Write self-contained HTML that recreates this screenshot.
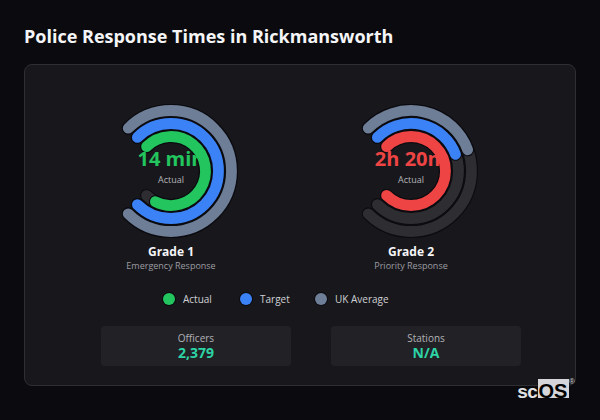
<!DOCTYPE html>
<html><head><meta charset="utf-8"><style>
*{margin:0;padding:0;box-sizing:border-box}
html,body{width:600px;height:420px;overflow:hidden;background:#0b0b0f;}
body{position:relative;-webkit-font-smoothing:antialiased;font-family:"Open Sans","Noto Sans","Liberation Sans",sans-serif;color:#fff;}
.abs{position:absolute;white-space:nowrap}
h1{position:absolute;left:24px;top:24px;font-size:18px;font-weight:700;line-height:24px;color:#f5f5f7;}
.card{position:absolute;left:24px;top:64px;width:552px;height:322px;background:#18181c;border:1px solid #2e2e33;border-radius:8px;}
svg.g{position:absolute;left:0;top:0;}
.ctr{position:absolute;text-align:center;transform:translateX(-50%);white-space:nowrap}
.val{font-size:20px;font-weight:700;line-height:27px}
.sub{font-size:9px;color:#b4b4b9;line-height:13px}
.gt{font-size:12px;font-weight:700;line-height:17px;color:#f5f5f7}
.gs{font-size:9px;color:#9c9ca2;line-height:13px}
.leg{position:absolute;top:293px;height:12px;display:flex;align-items:center;font-size:10px;color:#d0d0d4;}
.dot{width:12px;height:12px;border-radius:50%;margin-right:8px;flex:none;box-shadow:0 0 0 1px #0b0b10}
.box{position:absolute;top:326px;width:190px;height:40px;background:#222226;border-radius:4px;text-align:center;}
.bl{position:absolute;left:0;right:0;top:5px;font-size:10px;line-height:14px;color:#b1b1b7}
.bv{position:absolute;left:0;right:0;top:17px;font-size:14px;font-weight:700;line-height:19px;color:#2dd4a6}
.logo{position:absolute;left:0;top:0;font-family:"Liberation Sans",Arial,sans-serif;font-weight:700;}
.lsc{position:absolute;left:517.3px;top:380.5px;font-size:19px;line-height:22px;color:#e2e2e4;letter-spacing:-0.5px}
.lbox{position:absolute;left:537.5px;top:379px;width:31px;height:19px;background:#d6d6da}
.los{position:absolute;left:538.5px;top:379.5px;font-size:20px;line-height:22px;color:#000}
.lr{position:absolute;left:569px;top:376.5px;font-size:8px;line-height:10px;color:#cfcfd4;font-weight:400}
</style></head><body>
<h1>Police Response Times in Rickmansworth</h1>
<div class="card"></div>
<svg class="g" width="600" height="420" viewBox="0 0 600 420" fill="none" stroke-linecap="round">
<path d="M128.22 128.22A60.5 60.5 0 1 1 128.22 213.78" stroke="#0b0b10" stroke-width="13.0"/>
<path d="M128.22 128.22A60.5 60.5 0 1 1 128.22 213.78" stroke="#2d2d32" stroke-width="10.8"/>
<path d="M137.41 137.41A47.5 47.5 0 1 1 137.41 204.59" stroke="#0b0b10" stroke-width="13.0"/>
<path d="M137.41 137.41A47.5 47.5 0 1 1 137.41 204.59" stroke="#2d2d32" stroke-width="10.8"/>
<path d="M146.60 146.60A34.5 34.5 0 1 1 146.60 195.40" stroke="#0b0b10" stroke-width="13.0"/>
<path d="M146.60 146.60A34.5 34.5 0 1 1 146.60 195.40" stroke="#2d2d32" stroke-width="10.8"/>
<path d="M128.22 128.22A60.5 60.5 0 1 1 128.22 213.78" stroke="#0b0b10" stroke-width="13.0"/>
<path d="M128.22 128.22A60.5 60.5 0 1 1 128.22 213.78" stroke="#6e7e96" stroke-width="10.8"/>
<path d="M137.41 137.41A47.5 47.5 0 1 1 137.41 204.59" stroke="#0b0b10" stroke-width="13.0"/>
<path d="M137.41 137.41A47.5 47.5 0 1 1 137.41 204.59" stroke="#3b82f6" stroke-width="10.8"/>
<path d="M146.60 146.60A34.5 34.5 0 1 1 155.34 201.74" stroke="#0b0b10" stroke-width="13.0"/>
<path d="M146.60 146.60A34.5 34.5 0 1 1 155.34 201.74" stroke="#22c55e" stroke-width="10.8"/>
<path d="M368.22 128.22A60.5 60.5 0 1 1 368.22 213.78" stroke="#0b0b10" stroke-width="13.0"/>
<path d="M368.22 128.22A60.5 60.5 0 1 1 368.22 213.78" stroke="#2d2d32" stroke-width="10.8"/>
<path d="M377.41 137.41A47.5 47.5 0 1 1 377.41 204.59" stroke="#0b0b10" stroke-width="13.0"/>
<path d="M377.41 137.41A47.5 47.5 0 1 1 377.41 204.59" stroke="#2d2d32" stroke-width="10.8"/>
<path d="M386.60 146.60A34.5 34.5 0 1 1 386.60 195.40" stroke="#0b0b10" stroke-width="13.0"/>
<path d="M386.60 146.60A34.5 34.5 0 1 1 386.60 195.40" stroke="#2d2d32" stroke-width="10.8"/>
<path d="M368.22 128.22A60.5 60.5 0 0 1 467.66 149.79" stroke="#0b0b10" stroke-width="13.0"/>
<path d="M368.22 128.22A60.5 60.5 0 0 1 467.66 149.79" stroke="#6e7e96" stroke-width="10.8"/>
<path d="M377.41 137.41A47.5 47.5 0 0 1 455.49 154.35" stroke="#0b0b10" stroke-width="13.0"/>
<path d="M377.41 137.41A47.5 47.5 0 0 1 455.49 154.35" stroke="#3b82f6" stroke-width="10.8"/>
<path d="M386.60 146.60A34.5 34.5 0 1 1 386.60 195.40" stroke="#0b0b10" stroke-width="13.0"/>
<path d="M386.60 146.60A34.5 34.5 0 1 1 386.60 195.40" stroke="#ef4444" stroke-width="10.8"/>
</svg>
<div class="ctr val" style="left:171px;top:145px;color:#22c55e">14 min</div>
<div class="ctr val" style="left:411px;top:145px;color:#ef4444">2h 20m</div>
<div class="ctr sub" style="left:171px;top:173px">Actual</div>
<div class="ctr sub" style="left:411px;top:173px">Actual</div>
<div class="ctr gt" style="left:171px;top:243px">Grade 1</div>
<div class="ctr gs" style="left:171px;top:259px">Emergency Response</div>
<div class="ctr gt" style="left:411px;top:243px">Grade 2</div>
<div class="ctr gs" style="left:411px;top:259px">Priority Response</div>
<div class="leg" style="left:163px"><span class="dot" style="background:#22c55e"></span>Actual</div>
<div class="leg" style="left:240px"><span class="dot" style="background:#3b82f6"></span>Target</div>
<div class="leg" style="left:315px"><span class="dot" style="background:#6e7e96"></span>UK Average</div>
<div class="box" style="left:101px"><div class="bl">Officers</div><div class="bv">2,379</div></div>
<div class="box" style="left:331px"><div class="bl">Stations</div><div class="bv">N/A</div></div>
<div class="logo"><span class="lsc">sc</span><div class="lbox"></div><span class="los">OS</span><span class="lr">&reg;</span></div>
</body></html>
